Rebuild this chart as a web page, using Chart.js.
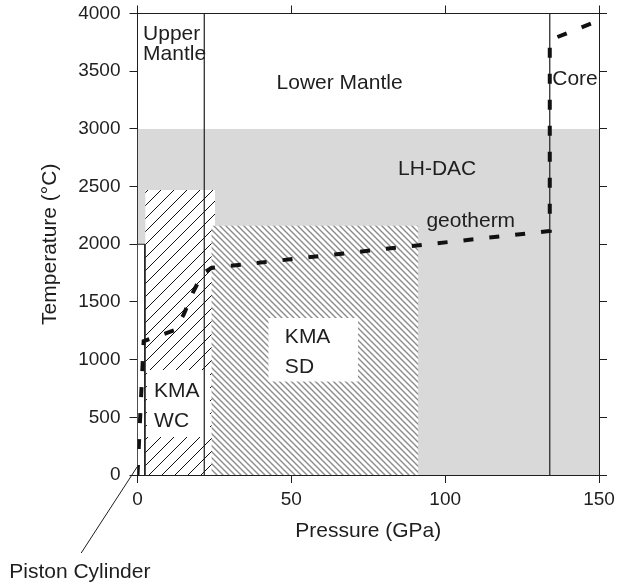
<!DOCTYPE html>
<html>
<head>
<meta charset="utf-8">
<script src="https://cdn.jsdelivr.net/npm/chart.js@4/dist/chart.umd.min.js"></script>
<style>
    html, body { margin: 0; padding: 0; background: #fff; }
</style>
</head>
<body>
<canvas id="myChart" width="617" height="586"></canvas>
<script>
// geotherm, pressure (GPa) / temperature (°C)
const geoP = [0, 2, 12, 15, 18, 21, 24, 134, 134, 150]
const geoT = [0, 1160, 1255, 1390, 1580, 1740, 1795, 2115, 3770, 3940]

// regions: [pMin, pMax, tMin, tMax]
const lhDac = [0, 150, 0, 3000]
const kmaWC = [2.5, 25.2, 0, 2470]
const kmaSD = [24, 91.3, 0, 2160]
const piston = [0, 2.4, 0, 2000]
const wcLabelBox = [3, 23.6, 330, 910]
const sdLabelBox = [42.5, 71.7, 810, 1360]

// mantle / core boundaries (GPa)
const boundaries = [21.7, 134]

const xTicks = [0, 50, 100, 150]
const yTicks = [0, 500, 1000, 1500, 2000, 2500, 3000, 3500, 4000]

// text labels: [text, pressure, temperature] (left / baseline)
const labels = [
    ['Upper', 1.8, 3770],
    ['Mantle', 1.8, 3600],
    ['Lower Mantle', 45.2, 3343],
    ['Core', 134.8, 3380],
    ['LH-DAC', 84.7, 2600],
    ['geotherm', 93.9, 2152],
    ['KMA', 5.4, 679],
    ['WC', 5.4, 413],
    ['KMA', 47.9, 1147],
    ['SD', 47.9, 887],
    ['Piston Cylinder', -41.7, -895]
]
// leader line for piston cylinder label
const leader = [[-18.3, -676], [0, 75]]

const ink = '#1e1e1e'
Chart.defaults.font.family = "'Liberation Sans', Arial, sans-serif"
Chart.defaults.color = ink

const canvas = document.getElementById('myChart')
const ctx = canvas.getContext('2d')

function hatch(size, color, width, dir) {
    const c = document.createElement('canvas')
    c.width = size
    c.height = size
    const g = c.getContext('2d')
    g.fillStyle = '#fff'
    g.fillRect(0, 0, size, size)
    g.strokeStyle = color
    g.lineWidth = width
    g.beginPath()
    if (dir === '/') {
        g.moveTo(-1, size + 1); g.lineTo(size + 1, -1)
        g.moveTo(-1, 1); g.lineTo(1, -1)
        g.moveTo(size - 1, size + 1); g.lineTo(size + 1, size - 1)
    } else {
        g.moveTo(-1, -1); g.lineTo(size + 1, size + 1)
        g.moveTo(size - 1, -1); g.lineTo(size + 1, 1)
        g.moveTo(-1, size - 1); g.lineTo(1, size + 1)
    }
    g.stroke()
    return ctx.createPattern(c, 'repeat')
}

// box as a filled line from tMax down to tMin
const box = (r, bg, order) => ({
    data: [{ x: r[0], y: r[3] }, { x: r[1], y: r[3] }],
    fill: { value: r[2] },
    backgroundColor: bg,
    borderColor: 'rgba(0,0,0,0)',
    borderWidth: 0,
    pointRadius: 0,
    order: order
})

const datasets = [
    box(lhDac, '#d9d9d9', 20),
    box(kmaWC, hatch(13, '#111', 1, '/'), 19),
    box(kmaSD, hatch(6, '#8c8c8c', 1.4, '\\'), 18),
    {
        data: [{ x: piston[0], y: piston[3] }, { x: piston[1], y: piston[3] }, { x: piston[1], y: piston[2] }],
        fill: { value: piston[2] },
        backgroundColor: '#fff',
        borderColor: ink,
        borderWidth: 1,
        pointRadius: 0,
        order: 17
    },
    box(wcLabelBox, '#fff', 16),
    box(sdLabelBox, '#fff', 15)
]

boundaries.forEach(p => {
    datasets.push({
        data: [{ x: p, y: 0 }, { x: p, y: 4000 }],
        borderColor: ink,
        borderWidth: 1.2,
        pointRadius: 0,
        fill: false,
        order: 5
    })
})

datasets.push({
    data: geoP.map((p, i) => ({ x: p, y: geoT[i] })),
    borderColor: '#111',
    borderWidth: 4,
    borderDash: [10, 16],
    borderCapStyle: 'butt',
    pointRadius: 0,
    fill: false,
    order: 1
})

const textPlugin = {
    id: 'texts',
    afterDatasetsDraw(chart) {
        const c = chart.ctx
        const xs = chart.scales.x
        const ys = chart.scales.y
        c.save()
        c.fillStyle = ink
        c.font = "21px 'Liberation Sans', Arial, sans-serif"
        c.textAlign = 'left'
        c.textBaseline = 'alphabetic'
        labels.forEach(([t, p, v]) => {
            c.fillText(t, xs.getPixelForValue(p), ys.getPixelForValue(v))
        })
        c.strokeStyle = ink
        c.lineWidth = 1
        c.beginPath()
        c.moveTo(xs.getPixelForValue(leader[0][0]), ys.getPixelForValue(leader[0][1]))
        c.lineTo(xs.getPixelForValue(leader[1][0]), ys.getPixelForValue(leader[1][1]))
        c.stroke()
        c.restore()
    }
}

const tickFont = { size: 19 }
const grid = { drawOnChartArea: false, tickLength: 8, color: ink, lineWidth: 1 }
const border = { color: ink, width: 1 }
const plain = v => String(v)
const noPad = s => { s.paddingTop = 0; s.paddingBottom = 0; s.paddingLeft = 0; s.paddingRight = 0 }

const myChart = new Chart(ctx, {
    type: 'line',
    data: { datasets: datasets },
    options: {
        responsive: false,
        animation: false,
        layout: { padding: 0 },
        plugins: { legend: { display: false }, tooltip: { enabled: false } },
        scales: {
            x: {
                type: 'linear', position: 'bottom', min: 0, max: 150, z: 1,
                afterBuildTicks: s => { s.ticks = xTicks.map(v => ({ value: v })) },
                afterFit: s => { s.height = 111; noPad(s) },
                grid: grid, border: border,
                ticks: { font: tickFont, padding: 5, color: ink, maxRotation: 0, callback: plain },
                title: { display: true, text: 'Pressure (GPa)', font: { size: 21 }, color: ink, padding: { top: 0, bottom: 42 } }
            },
            x2: {
                type: 'linear', position: 'top', min: 0, max: 150, z: 1,
                afterBuildTicks: s => { s.ticks = xTicks.map(v => ({ value: v })) },
                afterFit: s => { s.height = 13.5; noPad(s) },
                grid: grid, border: border,
                ticks: { display: false }
            },
            y: {
                type: 'linear', position: 'left', min: 0, max: 4000, z: 1,
                afterBuildTicks: s => { s.ticks = yTicks.map(v => ({ value: v })) },
                afterFit: s => { s.width = 137.5; noPad(s) },
                grid: grid, border: border,
                ticks: { font: tickFont, padding: 9, color: ink, callback: plain },
                title: { display: true, text: 'Temperature (°C)', font: { size: 21 }, color: ink, padding: { top: 38, bottom: 0 } }
            },
            y2: {
                type: 'linear', position: 'right', min: 0, max: 4000, z: 1,
                afterBuildTicks: s => { s.ticks = yTicks.map(v => ({ value: v })) },
                afterFit: s => { s.width = 18; noPad(s) },
                grid: grid, border: border,
                ticks: { display: false }
            }
        }
    },
    plugins: [textPlugin]
})
</script>
</body>
</html>
